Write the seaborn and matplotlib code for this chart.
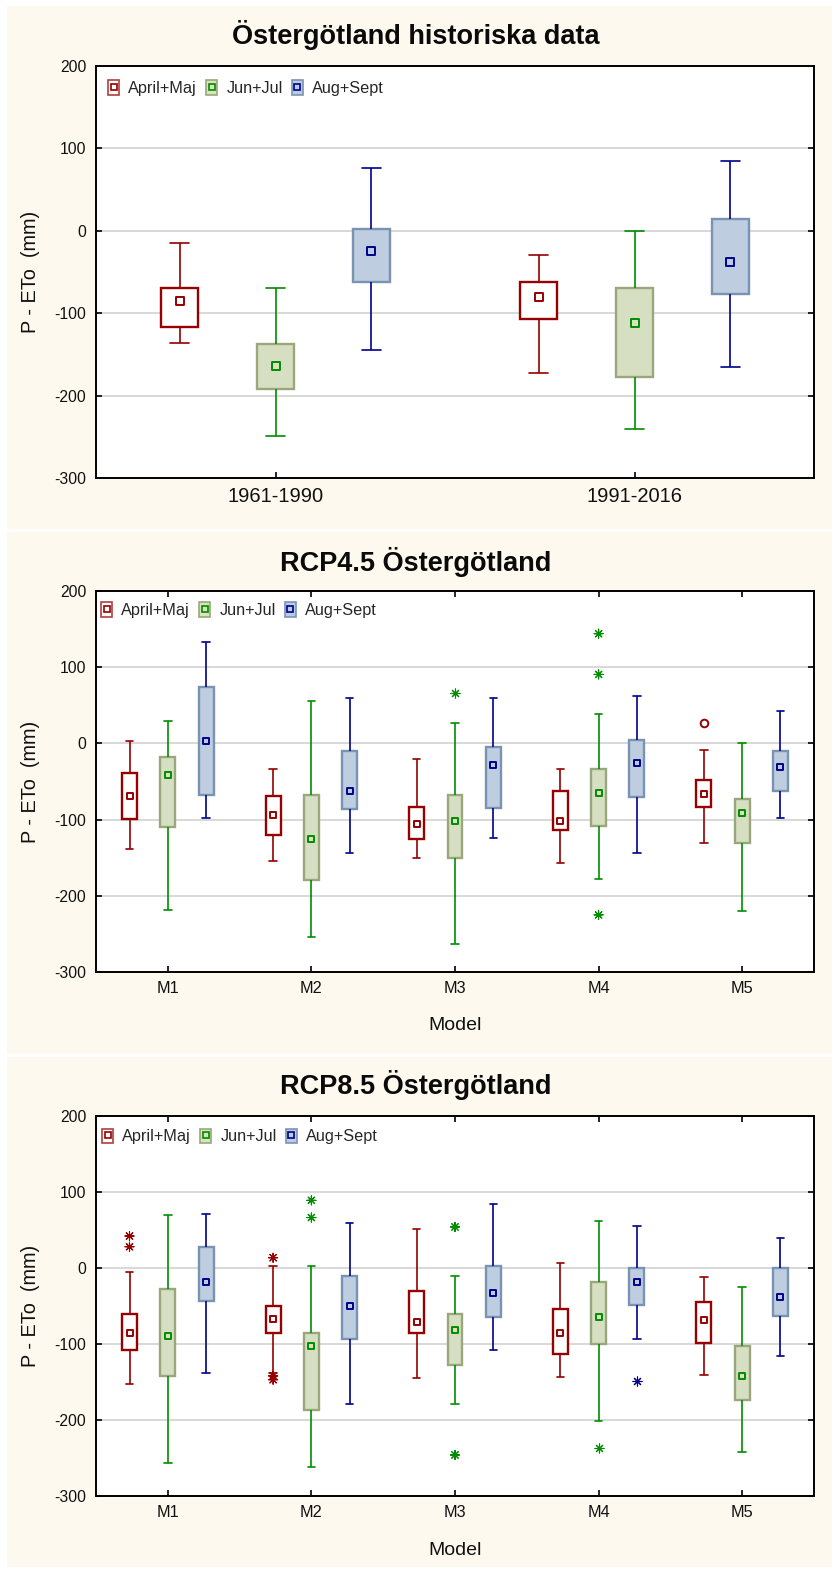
import numpy as np
import pandas as pd
import matplotlib
matplotlib.use("Agg")
import matplotlib.pyplot as plt
import seaborn as sns
from matplotlib.patches import Rectangle, Patch
from matplotlib.lines import Line2D
from matplotlib.legend_handler import HandlerTuple

# ---------------- data ----------------
seasons = ["April+Maj", "Jun+Jul", "Aug+Sept"]
hist_groups = ["1961-1990", "1991-2016"]
models = ["M1", "M2", "M3", "M4", "M5"]

titles = ["Östergötland historiska data", "RCP4.5 Östergötland", "RCP8.5 Östergötland"]
ylabel = "P - ETo  (mm)"
xlabel_model = "Model"

# rows = seasons (April+Maj, Jun+Jul, Aug+Sept), columns = groups
hist_lo  = [[-136, -173], [-249, -241], [-145, -165]]
hist_q1  = [[-116.5, -107], [-192, -177.5], [-62, -77]]
hist_med = [[-85, -80], [-164, -112], [-24, -38]]
hist_q3  = [[-69, -62], [-137, -69], [2, 14]]
hist_hi  = [[-15, -29], [-70, 0], [76, 85]]

r45_lo  = [[-138, -154, -150, -157, -131], [-219, -254.5, -263, -178, -220], [-97.5, -143.5, -124, -143.5, -98]]
r45_q1  = [[-99, -120, -125, -113, -84], [-110, -179, -151, -108, -131], [-68, -86.5, -85, -70, -62]]
r45_med = [[-69.5, -94, -106, -101.5, -67], [-41, -125.5, -101.5, -65, -91.5], [3, -62.5, -28.5, -26, -31]]
r45_q3  = [[-38.5, -69.5, -83, -63, -48], [-18, -68, -68, -34, -73], [74, -10.5, -5, 5, -10.5]]
r45_hi  = [[3, -33, -20.5, -34, -9], [29, 56, 27, 39, 1], [132.5, 60, 59, 62, 43]]
r45_out_group  = ["M3", "M4", "M4", "M4", "M5"]
r45_out_season = ["Jun+Jul", "Jun+Jul", "Jun+Jul", "Jun+Jul", "April+Maj"]
r45_out_value  = [66, 144, 90.5, -225, 27]
r45_out_kind   = ["extreme", "extreme", "extreme", "extreme", "outlier"]

r85_lo  = [[-153, -137.5, -145, -143, -141], [-256, -262, -179, -201.5, -242.7], [-138, -179, -108, -93, -115.6]]
r85_q1  = [[-107.5, -85, -86, -113.4, -98.6], [-141.5, -186.6, -127, -99.4, -173.5], [-43, -93, -65, -49, -62.6]]
r85_med = [[-86, -66.5, -71.4, -86, -69], [-89, -102.5, -81.5, -64, -142], [-18, -50, -33, -18, -37.7]]
r85_q3  = [[-61, -49.5, -30, -54, -44.7], [-28, -86, -61, -18, -103], [27, -10.5, 2.6, 0, 0]]
r85_hi  = [[-5, 2.6, 51, 6.6, -12], [70, 2, -10.5, 62, -24.5], [71, 58.7, 83.7, 55, 39.4]]
r85_out_group  = ["M1", "M1", "M2", "M2", "M2", "M2", "M2", "M3", "M3", "M4", "M4"]
r85_out_season = ["April+Maj", "April+Maj", "April+Maj", "April+Maj", "April+Maj",
                  "Jun+Jul", "Jun+Jul", "Jun+Jul", "Jun+Jul", "Jun+Jul", "Aug+Sept"]
r85_out_value  = [42, 28, 13.5, -142, -147, 89, 66.4, 54, -246, -236.5, -149]
r85_out_kind   = ["extreme"] * 11

# ---------------- styles ----------------
FACE = {"April+Maj": "#ffffff", "Jun+Jul": "#d8e4bc", "Aug+Sept": "#b8cce4"}
BOX_EDGE = {"April+Maj": "#960000", "Jun+Jul": "#9aa67c", "Aug+Sept": "#7b93b3"}
LEG_EDGE = {"April+Maj": "#b04040", "Jun+Jul": "#9aa67c", "Aug+Sept": "#7b93b3"}
LINE = {"April+Maj": "#960000", "Jun+Jul": "#008c00", "Aug+Sept": "#00008c"}
CREAM = "#fdf9ee"

sns.set_theme(style="white")
plt.rcParams["font.family"] = ["Liberation Sans", "DejaVu Sans"]
plt.rcParams["axes.unicode_minus"] = False

W, H = 832, 1573
fig = plt.figure(figsize=(W / 100, H / 100), dpi=100)
fig.patch.set_facecolor("white")

def px_rect(x0, y0, x1, y1):
    return [x0 / W, 1 - y1 / H, (x1 - x0) / W, (y1 - y0) / H]

# cream panel backgrounds
for (y0, y1) in [(6, 528.5), (531.5, 1053.5), (1056.5, 1567)]:
    r = Rectangle((7 / W, 1 - y1 / H), (W - 7) / W, (y1 - y0) / H,
                  transform=fig.transFigure, facecolor=CREAM, edgecolor="none", zorder=-10)
    fig.add_artist(r)

panels = [
    dict(groups=hist_groups, lo=hist_lo, q1=hist_q1, med=hist_med, q3=hist_q3, hi=hist_hi,
         out=None, rect=(96, 66, 814, 478), title_y=35, xlabel=None,
         xtick_fs=14.5, xpad=6.5, top_ticks=False, med_size=5.6, leg_x=12, leg_y=14.5),
    dict(groups=models, lo=r45_lo, q1=r45_q1, med=r45_med, q3=r45_q3, hi=r45_hi,
         out=(r45_out_group, r45_out_season, r45_out_value, r45_out_kind),
         rect=(96, 591, 814, 972), title_y=562, xlabel=(1016.5),
         xtick_fs=11.7, xpad=6.5, top_ticks=True, med_size=5.0, leg_x=5, leg_y=11.5),
    dict(groups=models, lo=r85_lo, q1=r85_q1, med=r85_med, q3=r85_q3, hi=r85_hi,
         out=(r85_out_group, r85_out_season, r85_out_value, r85_out_kind),
         rect=(96, 1116, 814, 1496), title_y=1085, xlabel=(1542),
         xtick_fs=11.7, xpad=6.5, top_ticks=True, med_size=5.0, leg_x=6, leg_y=12.5),
]

for p, title in zip(panels, titles):
    x0, y0, x1, y1 = p["rect"]
    ax = fig.add_axes(px_rect(x0, y0, x1, y1))
    ax.set_facecolor("white")
    groups = p["groups"]

    rows, mrows = [], []
    for si, s in enumerate(seasons):
        for gi, g in enumerate(groups):
            for v in (p["lo"][si][gi], p["q1"][si][gi], p["med"][si][gi],
                      p["q3"][si][gi], p["hi"][si][gi]):
                rows.append((g, s, v))
            mrows.append((g, s, p["med"][si][gi]))
    df = pd.DataFrame(rows, columns=["group", "season", "value"])
    mdf = pd.DataFrame(mrows, columns=["group", "season", "value"])

    for s in seasons:
        sns.boxplot(data=df[df["season"] == s], x="group", y="value", hue="season",
                    order=groups, hue_order=seasons, palette=FACE, dodge=True,
                    width=0.8, gap=0.61, whis=(0, 100), showfliers=False,
                    boxprops=dict(edgecolor=BOX_EDGE[s], linewidth=1.7),
                    whiskerprops=dict(color=LINE[s], linewidth=1.2),
                    capprops=dict(color=LINE[s], linewidth=1.2),
                    medianprops=dict(visible=False),
                    legend=False, ax=ax)
    for s in seasons:
        sns.stripplot(data=mdf[mdf["season"] == s], x="group", y="value", hue="season",
                      order=groups, hue_order=seasons, palette=FACE, dodge=True,
                      jitter=False, marker="s", size=p["med_size"], linewidth=1.4,
                      edgecolor=LINE[s], legend=False, ax=ax, zorder=6)

    if p["out"] is not None:
        og, os_, ov, ok = p["out"]
        odf = pd.DataFrame({"group": og, "season": os_, "value": ov, "kind": ok})
        for s in seasons:
            sub = odf[(odf["season"] == s) & (odf["kind"] == "extreme")]
            if len(sub):
                sns.stripplot(data=sub, x="group", y="value", hue="season",
                              order=groups, hue_order=seasons, palette=LINE, dodge=True,
                              jitter=False, marker=(8, 2, 0), size=6.5, linewidth=0.8,
                              legend=False, ax=ax, zorder=6)
            sub = odf[(odf["season"] == s) & (odf["kind"] == "outlier")]
            if len(sub):
                sns.stripplot(data=sub, x="group", y="value", hue="season",
                              order=groups, hue_order=seasons,
                              palette={k: "white" for k in seasons}, dodge=True,
                              jitter=False, marker="o", size=5.5, linewidth=1.4,
                              edgecolor=LINE[s], legend=False, ax=ax, zorder=6)

    ax.set_xlim(-0.5, len(groups) - 0.5)
    ax.set_ylim(-300, 200)
    ax.set_yticks(range(-300, 201, 100))
    ax.set_axisbelow(True)
    ax.yaxis.grid(True, color="#d6d6d6", linewidth=1.3)
    ax.xaxis.grid(False)
    for sp in ax.spines.values():
        sp.set_visible(True)
        sp.set_color("black")
        sp.set_linewidth(1.4)
    ax.tick_params(axis="y", direction="in", length=4, width=1.2, color="black",
                   left=True, right=True, labelleft=True, labelright=False,
                   labelsize=11.3, pad=7, labelcolor="#111111")
    ax.tick_params(axis="x", direction="in", length=4, width=1.2, color="black",
                   bottom=True, top=p["top_ticks"], labelsize=p["xtick_fs"],
                   pad=p["xpad"], labelcolor="#111111")

    ax.set_ylabel(ylabel, fontsize=14.3, color="#111111")
    ax.yaxis.set_label_coords((40 - x0) / (x1 - x0), 0.5)
    if p["xlabel"] is not None:
        ax.set_xlabel(xlabel_model, fontsize=14, color="#111111")
        ax.xaxis.set_label_coords(0.5, -(p["xlabel"] - y1) / (y1 - y0))
    else:
        ax.set_xlabel("")

    handles = []
    for s in seasons:
        handles.append((Patch(facecolor=FACE[s], edgecolor=LEG_EDGE[s], linewidth=1.2),
                        Line2D([], [], marker="s", markersize=4.2, markerfacecolor="none",
                               markeredgecolor=LINE[s], markeredgewidth=1.2, linestyle="none")))
    ax.legend(handles, seasons, handler_map={tuple: HandlerTuple(ndivide=1, pad=0)},
              loc="upper left", ncol=3, frameon=False, fontsize=11.7,
              bbox_to_anchor=(p["leg_x"] / (x1 - x0), 1 - p["leg_y"] / (y1 - y0)),
              borderaxespad=0, borderpad=0, handlelength=0.7, handleheight=0.95,
              handletextpad=0.55, columnspacing=0.55)

    fig.text(0.5, 1 - p["title_y"] / H, title, ha="center", va="center",
             fontsize=19.5, fontweight="bold", color="#0a0a0a")

fig.savefig("out.png", dpi=100, facecolor=fig.get_facecolor())
